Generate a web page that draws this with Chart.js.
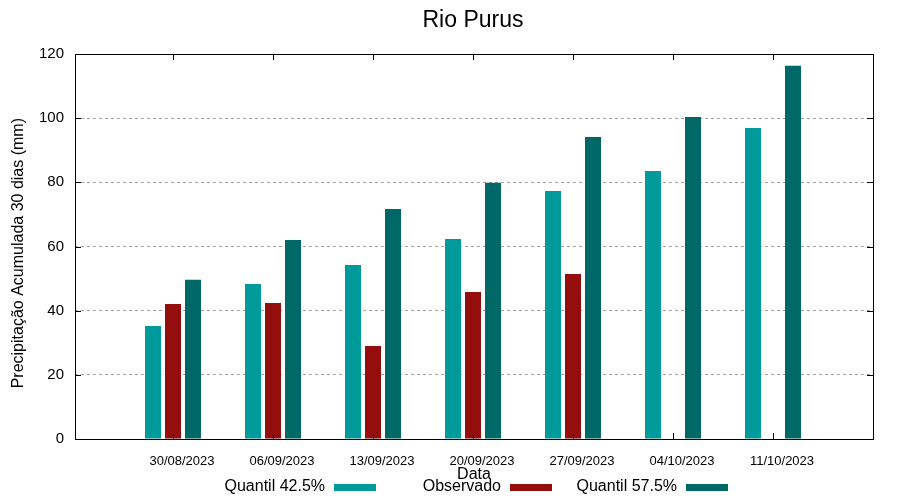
<!DOCTYPE html>
<html>
<head>
<meta charset="utf-8">
<script src="https://cdn.jsdelivr.net/npm/chart.js@4.4.0/dist/chart.umd.min.js"></script>
<style>
  html, body { margin: 0; padding: 0; background: #fff; }
  #wrap { width: 900px; height: 500px; }
</style>
</head>
<body>
<div id="wrap"><canvas id="rioChart" width="900" height="500"></canvas></div>
<script>

// Data

const chartTitle = "Rio Purus";

const dates = [
    "30/08/2023", "06/09/2023", "13/09/2023", "20/09/2023",
    "27/09/2023", "04/10/2023", "11/10/2023"
];

const quantil425 = [35.2, 48.3, 54.2, 62.3, 77.3, 83.5, 96.9];
const observado = [42.1, 42.4, 29.0, 45.8, 51.4, null, null];
const quantil575 = [49.6, 62.0, 71.7, 79.9, 94.1, 100.4, 116.3];

const yTicks = [0, 20, 40, 60, 80, 100, 120];

const seriesNames = ["Quantil 42.5%", "Observado", "Quantil 57.5%"];
const seriesColors = ["#009a9a", "#940e0e", "#006866"];

const font = "'Liberation Sans', Arial, sans-serif";

function toPoints(values){
    return values.map(function(v, i){
        return { x: i, y: v };
    });
}

//Frame, inward tick marks (gnuplot style), title over the plot and the legend row

const framePlugin = {
    id: "frame",
    afterDatasetsDraw: function(chart){
        const ctx = chart.ctx;
        const a = chart.chartArea;
        const xs = chart.scales.x;
        const ys = chart.scales.y;
        ctx.save();
        ctx.strokeStyle = "#000";
        ctx.lineWidth = 1;
        ctx.beginPath();
        yTicks.forEach(function(t){
            const py = Math.round(ys.getPixelForValue(t)) + 0.5;
            ctx.moveTo(a.left, py); ctx.lineTo(a.left + 6, py);
            ctx.moveTo(a.right, py); ctx.lineTo(a.right - 6, py);
        });
        dates.forEach(function(d, i){
            const px = Math.round(xs.getPixelForValue(i)) + 0.5;
            ctx.moveTo(px, a.bottom); ctx.lineTo(px, a.bottom - 6);
            ctx.moveTo(px, a.top); ctx.lineTo(px, a.top + 6);
        });
        ctx.stroke();
        ctx.strokeRect(Math.round(a.left) + 0.5, Math.round(a.top) + 0.5,
            Math.round(a.right - a.left), Math.round(a.bottom - a.top));
        ctx.restore();
    },
    afterDraw: function(chart){
        const ctx = chart.ctx;
        const a = chart.chartArea;
        const mid = (a.left + a.right) / 2;
        ctx.save();
        ctx.fillStyle = "#000";

        ctx.font = "23px " + font;
        ctx.textAlign = "center";
        ctx.textBaseline = "alphabetic";
        ctx.fillText(chartTitle, mid - 1, 27);

        ctx.font = "16px " + font;
        ctx.textAlign = "right";
        ctx.textBaseline = "middle";
        chart.data.datasets.forEach(function(ds, i){
            const textRight = mid - 149 + i * 176;
            ctx.fillText(ds.label, textRight, 487);
            ctx.fillStyle = ds.backgroundColor;
            ctx.fillRect(textRight + 9, 484, 42, 7);
            ctx.fillStyle = "#000";
        });
        ctx.restore();
    }
};

const chartCanvas = document.querySelector("#rioChart");

new Chart(chartCanvas, {

    type: "bar",

    data: {
        datasets: [
            { label: seriesNames[0], data: toPoints(quantil425), backgroundColor: seriesColors[0] },
            { label: seriesNames[1], data: toPoints(observado), backgroundColor: seriesColors[1] },
            { label: seriesNames[2], data: toPoints(quantil575), backgroundColor: seriesColors[2] }
        ]
    },

    options: {
        responsive: false,
        animation: false,
        layout: { padding: { left: 0, right: 27, top: 54, bottom: 0 } },
        datasets: {
            bar: { categoryPercentage: 0.6, barPercentage: 0.8 }
        },
        plugins: {
            legend: { display: false },
            tooltip: { enabled: false },
            title: { display: false }
        },
        scales: {
            x: {
                type: "linear",
                offset: false,
                min: -0.98,
                max: 7,
                afterBuildTicks: function(scale){
                    scale.ticks = dates.map(function(d, i){ return { value: i }; });
                },
                afterFit: function(scale){ scale.height = 61; },
                border: { display: false },
                grid: { display: false, drawTicks: false },
                ticks: {
                    color: "#000",
                    font: { family: font, size: 13 },
                    padding: 15,
                    labelOffset: 9,
                    maxRotation: 0,
                    autoSkip: false,
                    callback: function(value){ return dates[value] || ""; }
                },
                title: {
                    display: true,
                    text: "Data",
                    color: "#000",
                    font: { family: font, size: 16 },
                    padding: { top: 0, bottom: 16 }
                }
            },
            y: {
                min: 0,
                max: 120,
                afterBuildTicks: function(scale){
                    scale.ticks = yTicks.map(function(v){ return { value: v }; });
                },
                afterFit: function(scale){ scale.width = 75; },
                grid: {
                    drawTicks: false,
                    color: function(c){
                        return (c.tick && (c.tick.value === 0 || c.tick.value === 120)) ? "rgba(0,0,0,0)" : "#a0a0a0";
                    },
                    lineWidth: 1
                },
                border: { display: false, dash: [3, 3] },
                ticks: {
                    color: "#000",
                    font: { family: font, size: 15 },
                    padding: 11
                },
                title: {
                    display: true,
                    text: "Precipitação Acumulada 30 dias (mm)   ",
                    color: "#000",
                    font: { family: font, size: 16 },
                    padding: { top: 9, bottom: 0 }
                }
            }
        }
    },

    plugins: [framePlugin]

});

</script>
</body>
</html>
